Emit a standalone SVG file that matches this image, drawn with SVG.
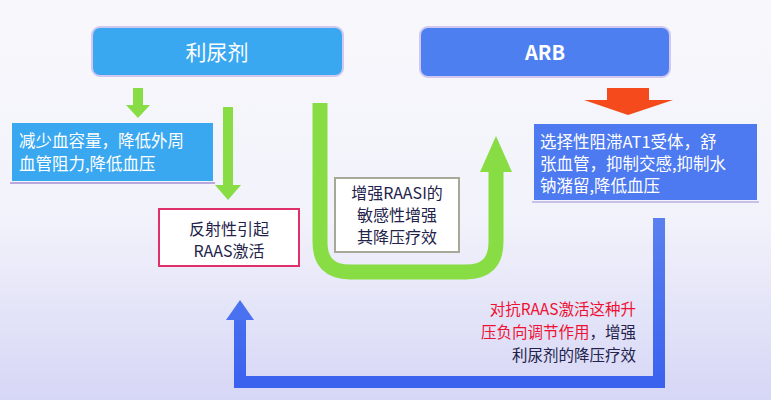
<svg xmlns="http://www.w3.org/2000/svg" width="771" height="400" viewBox="0 0 771 400">
<defs>
<linearGradient id="bg" x1="0" y1="0" x2="0" y2="1"><stop offset="0" stop-color="#f8f8fc"/><stop offset="0.55" stop-color="#f2f2fb"/><stop offset="1" stop-color="#d6d6f6"/></linearGradient>
<linearGradient id="bl" x1="0" y1="0" x2="0" y2="1"><stop offset="0" stop-color="#5a80f0"/><stop offset="1" stop-color="#3a62ee"/></linearGradient>
<style>
text{font-family:"Noto Sans CJK SC","Liberation Sans",sans-serif}
.w{fill:#fff;font-size:16.5px}
.d{fill:#22224a;font-size:16px}
.r{fill:#ee1133;font-size:16px}
.c{font-size:15.5px}
.g{fill:#88dd44}
</style>
</defs>
<rect width="771" height="400" fill="url(#bg)"/>
<g id="connectors">
<polygon class="g" points="133,88 143,88 143,105 150,105 138,118 126,105 133,105"/>
<polygon class="g" points="223,107 233,107 233,185 241,185 228,200 215,185 223,185"/>
<path d="M320,103 V242 Q320,272 350,272 H466 Q496,272 496,242 V160" fill="none" stroke="#88dd44" stroke-width="15"/>
<polygon class="g" points="480,172 496,136 512,172"/>
<polygon fill="#f44a1c" points="607,88 649,88 649,100 673,100 628,115 584,100 607,100"/>
<path d="M659,218 V382 H240 V318" fill="none" stroke="url(#bl)" stroke-width="12"/>
<polygon fill="#4a72f0" points="226,320 240,300 254,320"/>
</g>
<g id="diuretic">
<rect x="92" y="27" width="251" height="49" rx="8" fill="#3aa8f0" stroke="#d0c8f0" stroke-width="2"/>
<text x="217" y="60" text-anchor="middle" fill="#fff" font-size="21">利尿剂</text>
</g>
<g id="arb">
<rect x="420" y="27" width="250" height="50" rx="8" fill="#4d7ff0" stroke="#d0c8f0" stroke-width="2"/>
<text x="545" y="60" text-anchor="middle" fill="#fff" font-size="20" font-weight="bold" font-family="Liberation Sans,sans-serif">ARB</text>
</g>
<g id="reduce">
<rect x="12" y="123" width="201" height="58" fill="#3aa8f0"/>
<line x1="10" y1="183" x2="215" y2="183" stroke="#b8a8e0" stroke-width="2"/>
<text x="19" y="147" class="w">减少血容量，降低外周</text>
<text x="19" y="170" class="w">血管阻力,降低血压</text>
</g>
<g id="raas">
<rect x="159" y="209" width="140" height="57" fill="#fff" stroke="#e0306a" stroke-width="2"/>
<text x="229" y="235" text-anchor="middle" class="d">反射性引起</text>
<text x="229" y="257" text-anchor="middle" class="d">RAAS激活</text>
</g>
<g id="enhance">
<rect x="335" y="178" width="124" height="74" fill="#fff" stroke="#a8a898" stroke-width="2"/>
<text x="397" y="199" text-anchor="middle" class="d">增强RAASI的</text>
<text x="397" y="221" text-anchor="middle" class="d">敏感性增强</text>
<text x="397" y="243" text-anchor="middle" class="d">其降压疗效</text>
</g>
<g id="arbdesc">
<rect x="534" y="124" width="223" height="76" fill="#4d7af0"/>
<line x1="532" y1="202" x2="759" y2="202" stroke="#c8c0e8" stroke-width="2"/>
<text x="540" y="148" class="w">选择性阻滞AT1受体，舒</text>
<text x="540" y="170" class="w">张血管，抑制交感,抑制水</text>
<text x="540" y="192" class="w">钠潴留,降低血压</text>
</g>
<g id="counter">
<text x="636" y="315" text-anchor="end" class="r c">对抗RAAS激活这种升</text>
<text x="636" y="338" text-anchor="end" class="c"><tspan class="r c">压负向调节作用</tspan><tspan class="d c">，增强</tspan></text>
<text x="636" y="361" text-anchor="end" class="d c">利尿剂的降压疗效</text>
</g>
</svg>
